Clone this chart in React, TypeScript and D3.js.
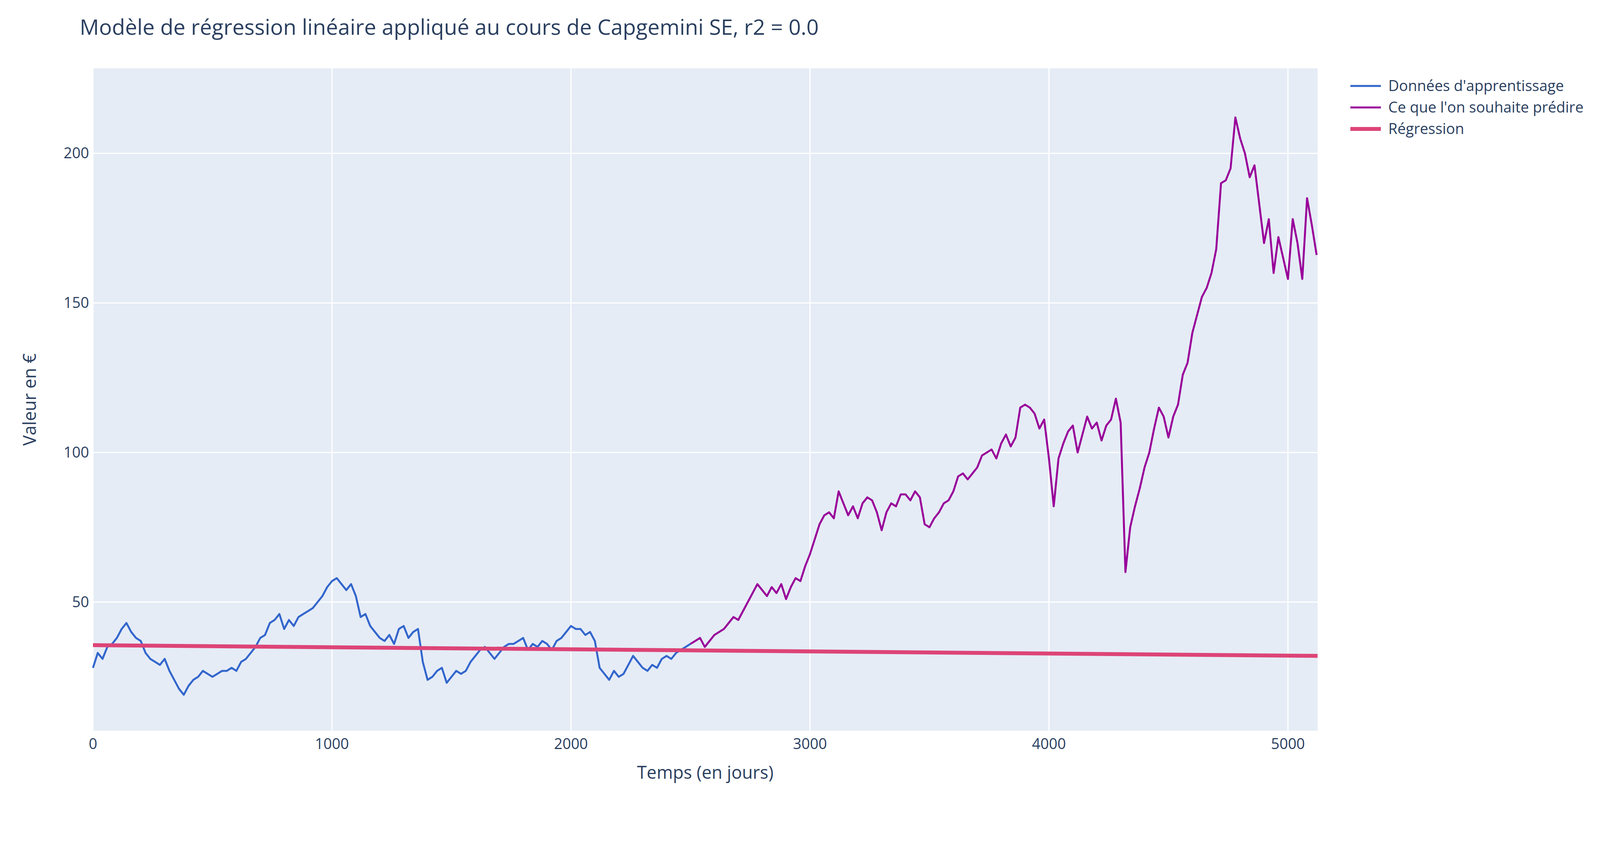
import React from 'react';
import * as d3 from 'd3';

const trainDays = d3.range(0, 2501, 20);
const trainValues = [
  28, 33, 31, 35, 36, 38, 41, 43, 40, 38, 37, 33, 31, 30, 29, 31, 27, 24, 21, 19,
  22, 24, 25, 27, 26, 25, 26, 27, 27, 28, 27, 30, 31, 33, 35, 38, 39, 43, 44, 46,
  41, 44, 42, 45, 46, 47, 48, 50, 52, 55, 57, 58, 56, 54, 56, 52, 45, 46, 42, 40,
  38, 37, 39, 36, 41, 42, 38, 40, 41, 30, 24, 25, 27, 28, 23, 25, 27, 26, 27, 30,
  32, 34, 35, 33, 31, 33, 35, 36, 36, 37, 38, 34, 36, 35, 37, 36, 34, 37, 38, 40,
  42, 41, 41, 39, 40, 37, 28, 26, 24, 27, 25, 26, 29, 32, 30, 28, 27, 29, 28, 31,
  32, 31, 33, 34, 35, 36,
];

const testDays = d3.range(2500, 5121, 20);
const testValues = [
  36, 37, 38, 35, 37, 39, 40, 41, 43, 45, 44, 47, 50, 53, 56, 54, 52, 55, 53, 56,
  51, 55, 58, 57, 62, 66, 71, 76, 79, 80, 78, 87, 83, 79, 82, 78, 83, 85, 84, 80,
  74, 80, 83, 82, 86, 86, 84, 87, 85, 76, 75, 78, 80, 83, 84, 87, 92, 93, 91, 93,
  95, 99, 100, 101, 98, 103, 106, 102, 105, 115, 116, 115, 113, 108, 111, 98, 82, 98, 103, 107,
  109, 100, 106, 112, 108, 110, 104, 109, 111, 118, 110, 60, 75, 82, 88, 95, 100, 108, 115, 112,
  105, 112, 116, 126, 130, 140, 146, 152, 155, 160, 168, 190, 191, 195, 212, 205, 200, 192, 196, 183,
  170, 178, 160, 172, 165, 158, 178, 170, 158, 185, 176, 166, 164,
];

const regDays = [0, 5124];
const regValues = [35.6, 32.0];

const xTicks = [0, 1000, 2000, 3000, 4000, 5000];
const yTicks = [50, 100, 150, 200];

const legendItems = [
  { name: "Données d'apprentissage", color: '#3366CC', w: 5 },
  { name: "Ce que l'on souhaite prédire", color: '#990099', w: 5 },
  { name: 'Régression', color: '#DD4477', w: 10 },
];

const W = 4200;
const H = 2160;
const plot = { left: 238, right: 3373, top: 175, bottom: 1870 };
const font = '"Open Sans", "DejaVu Sans", sans-serif';
const ink = '#2a3f5f';

export default function App() {
  const x = d3.scaleLinear().domain([0, 5124]).range([plot.left, plot.right]);
  const y = d3.scaleLinear().domain([7, 228.4]).range([plot.bottom, plot.top]);

  const line = d3
    .line<[number, number]>()
    .x(d => x(d[0]))
    .y(d => y(d[1]));

  const train = trainDays.map((d, i) => [d, trainValues[i]] as [number, number]);
  const test = testDays.map((d, i) => [d, testValues[i]] as [number, number]);
  const reg = regDays.map((d, i) => [d, regValues[i]] as [number, number]);

  return (
    <svg width={W} height={H} style={{ position: 'absolute', left: 0, top: 0, background: '#fff' }} fontFamily={font}>
      <rect x={plot.left} y={plot.top} width={plot.right - plot.left} height={plot.bottom - plot.top} fill="#E5ECF6" />
      {xTicks.map(t => (
        <line key={'gx' + t} x1={x(t)} x2={x(t)} y1={plot.top} y2={plot.bottom} stroke="#fff" strokeWidth={3} />
      ))}
      {yTicks.map(t => (
        <line key={'gy' + t} x1={plot.left} x2={plot.right} y1={y(t)} y2={y(t)} stroke="#fff" strokeWidth={3} />
      ))}
      <g fill="none" strokeLinejoin="round">
        <path d={line(train) || ''} stroke="#3366CC" strokeWidth={5} />
        <path d={line(test) || ''} stroke="#990099" strokeWidth={5} />
        <path d={line(reg) || ''} stroke="#DD4477" strokeWidth={10} />
      </g>
      {xTicks.map(t => (
        <text key={'tx' + t} x={x(t)} y={1917} textAnchor="middle" fontSize={38} fill={ink}>
          {t}
        </text>
      ))}
      {yTicks.map(t => (
        <text key={'ty' + t} x={plot.left - 10} y={y(t) + 13} textAnchor="end" fontSize={38} fill={ink}>
          {t}
        </text>
      ))}
      <text x={(plot.left + plot.right) / 2} y={1993} textAnchor="middle" fontSize={45} fill={ink}>
        Temps (en jours)
      </text>
      <text transform={`translate(92, ${(plot.top + plot.bottom) / 2}) rotate(-90)`} textAnchor="middle" fontSize={45} fill={ink}>
        Valeur en €
      </text>
      <text x={204} y={89} fontSize={55} fill={ink}>
        Modèle de régression linéaire appliqué au cours de Capgemini SE, r2 = 0.0
      </text>
      {legendItems.map((item, i) => (
        <g key={item.name} transform={`translate(3457, ${220 + i * 55})`}>
          <line x1={0} x2={78} y1={0} y2={0} stroke={item.color} strokeWidth={item.w} />
          <text x={97} y={13} fontSize={38} fill={ink}>
            {item.name}
          </text>
        </g>
      ))}
    </svg>
  );
}
